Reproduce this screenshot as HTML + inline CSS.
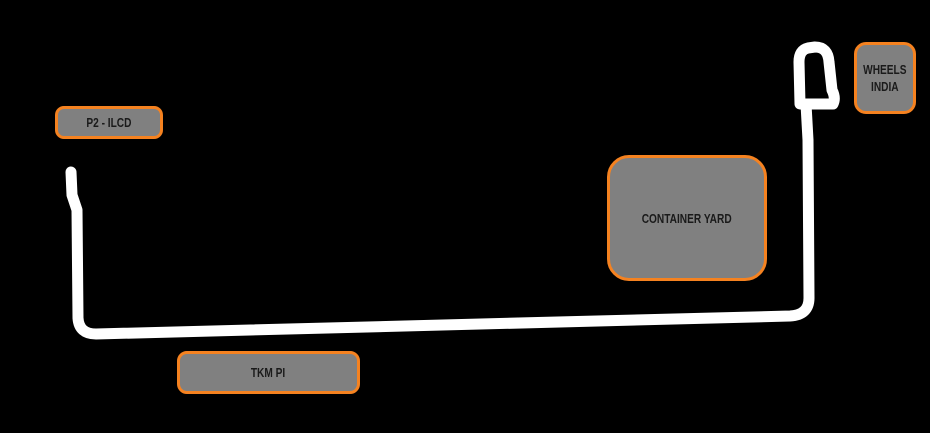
<!DOCTYPE html>
<html><head><style>
body{margin:0;width:930px;height:433px;background:#000;overflow:hidden;position:relative;font-family:"Liberation Sans",sans-serif;}
.b{position:absolute;box-sizing:border-box;background:#808080;border:3px solid #f58220;display:flex;align-items:center;justify-content:center;text-align:center;font-weight:bold;font-size:13px;color:#1a1a1a;line-height:17px;}
.b span{display:inline-block;transform:scaleX(0.78);}
</style></head><body>
<svg width="930" height="433" style="position:absolute;left:0;top:0">
<path d="M71 172 L72 195 L77 210 L78 318 Q79 334 96 334 L790 316 Q809 315 809 298 L808 140 L806 104 L833 104 Q836 98 832 90 L829 62 Q828 47 815 47 L808 48 Q799 50 799 62 L800 104" fill="none" stroke="#fff" stroke-width="11" stroke-linecap="round" stroke-linejoin="round"/>
</svg>
<div class="b" style="left:55px;top:106px;width:108px;height:33px;border-radius:9px"><span>P2 - ILCD</span></div>
<div class="b" style="left:854px;top:42px;width:62px;height:72px;border-radius:12px"><span>WHEELS<br>INDIA</span></div>
<div class="b" style="left:607px;top:155px;width:160px;height:126px;border-radius:22px"><span>CONTAINER YARD</span></div>
<div class="b" style="left:177px;top:351px;width:183px;height:43px;border-radius:10px"><span>TKM PI</span></div>
</body></html>
